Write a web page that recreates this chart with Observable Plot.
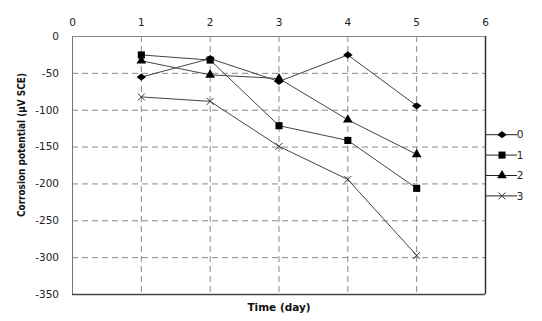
<!DOCTYPE html>
<html><head><meta charset="utf-8">
<script src="https://cdn.jsdelivr.net/npm/d3@7"></script>
<script src="https://cdn.jsdelivr.net/npm/@observablehq/plot@0.6"></script>
<style>
body{margin:0;background:#fff;}
#chart{position:relative;width:542px;height:321px;}
#chart svg{display:block;background:linear-gradient(#fff 0 5px,#f3f3f3 5px);}
</style></head><body>
<div id="chart"></div>
<script>
const days = [1, 2, 3, 4, 5];
const seriesNames = ["0", "1", "2", "3"];
const s0 = [-55, -30, -61, -25, -94];
const s1 = [-25, -32, -121, -141, -206];
const s2 = [-33, -52, -57, -113, -160];
const s3 = [-82, -88, -149, -194, -297];
const xTicks = [0, 1, 2, 3, 4, 5, 6];
const yTicks = [0, -50, -100, -150, -200, -250, -300, -350];
const xTitle = "Time (day)";
const yTitle = "Corrosion potential (µV SCE)";

const wideDiamond = {draw(ctx, size){ const a = Math.sqrt(size)*0.75, b = a*0.75; ctx.moveTo(-a,0); ctx.lineTo(0,-b); ctx.lineTo(a,0); ctx.lineTo(0,b); ctx.closePath(); }};
const symbols = [wideDiamond, "square", "triangle", "times"];
const radii = [3.6, 4, 3.6, 3.2];

const allSeries = [s0, s1, s2, s3];
const data = [];
allSeries.forEach((vals, i) => vals.forEach((v, j) => data.push({series: seriesNames[i], idx: i, day: days[j], value: v})));

const marks = [
  Plot.ruleX(days, {stroke: "#8a8a8a", strokeDasharray: "6,4", strokeWidth: 1}),
  Plot.ruleY(yTicks.filter(t => t !== 0 && t !== -350), {stroke: "#8a8a8a", strokeDasharray: "6,4", strokeWidth: 1}),
  Plot.axisX({anchor: "top", ticks: xTicks, tickSize: 0, tickPadding: 11, tickFormat: d => String(d), label: null, fontSize: 10.5, fill: "#222"}),
  Plot.axisY({anchor: "left", ticks: yTicks, tickSize: 0, tickPadding: 13.5, tickFormat: d => String(d), label: null, fontSize: 10.5, fill: "#222"}),
  Plot.lineY(data, {x: "day", y: "value", z: "series", stroke: "#444", strokeWidth: 1}),
];
allSeries.forEach((vals, i) => {
  const d = data.filter(r => r.idx === i);
  const sym = symbols[i];
  if (sym === "times") marks.push(Plot.dot(d, {x: "day", y: "value", symbol: sym, r: radii[i], stroke: "#333", strokeWidth: 1}));
  else marks.push(Plot.dot(d, {x: "day", y: "value", symbol: sym, r: radii[i], fill: "#000", stroke: "none"}));
});
marks.push(
  Plot.ruleX([0], {stroke: "#777"}),
  Plot.ruleY([0], {stroke: "#888"}),
  Plot.ruleX([6], {stroke: "#333", strokeWidth: 1.5}),
  Plot.ruleY([-350], {stroke: "#444", strokeWidth: 1.5}),
  Plot.text([xTitle], {frameAnchor: "bottom", dy: 16, fontWeight: "bold", fontSize: 10.5, fill: "#111"})
);

const chart = Plot.plot({
  width: 542, height: 321,
  marginLeft: 72, marginRight: 57, marginTop: 36, marginBottom: 27,
  style: {fontFamily: "'DejaVu Sans', Verdana, sans-serif", background: "transparent", overflow: "visible"},
  x: {domain: [0, 6], axis: null},
  y: {domain: [-350, 0], axis: null},
  marks
});
document.getElementById("chart").appendChild(chart);

const svg = d3.select(chart);
// Y axis title
svg.append("text")
  .attr("transform", "translate(21,145) rotate(-90)")
  .attr("text-anchor", "middle").attr("dy", "0.35em")
  .attr("font-family", "'DejaVu Sans Condensed','Liberation Sans Narrow',sans-serif")
  .attr("font-weight", "bold").attr("font-size", 10.5).attr("fill", "#111")
  .attr("textLength", 144).attr("lengthAdjust", "spacingAndGlyphs")
  .text(yTitle);

// Legend
const lg = svg.append("g").attr("font-family", "'DejaVu Sans', Verdana, sans-serif").attr("font-size", 10.5);
const symGen = (s, r) => typeof s === "string"
  ? d3.symbol({square: d3.symbolSquare, triangle: d3.symbolTriangle, times: d3.symbolTimes}[s], Math.PI * r * r)()
  : d3.symbol(s, Math.PI * r * r)();
seriesNames.forEach((name, i) => {
  const g = lg.append("g").attr("transform", `translate(486,${134.7 + i * 20.4})`);
  g.append("line").attr("x1", 0).attr("x2", 31).attr("stroke", "#222").attr("stroke-width", 1);
  const p = g.append("path").attr("transform", "translate(16,0)").attr("d", symGen(symbols[i], radii[i]));
  if (symbols[i] === "times") p.attr("fill", "none").attr("stroke", "#333");
  else p.attr("fill", "#000");
  g.append("text").attr("x", 34).attr("dy", "0.35em").attr("fill", "#222").text(name);
});
</script>
</body></html>
